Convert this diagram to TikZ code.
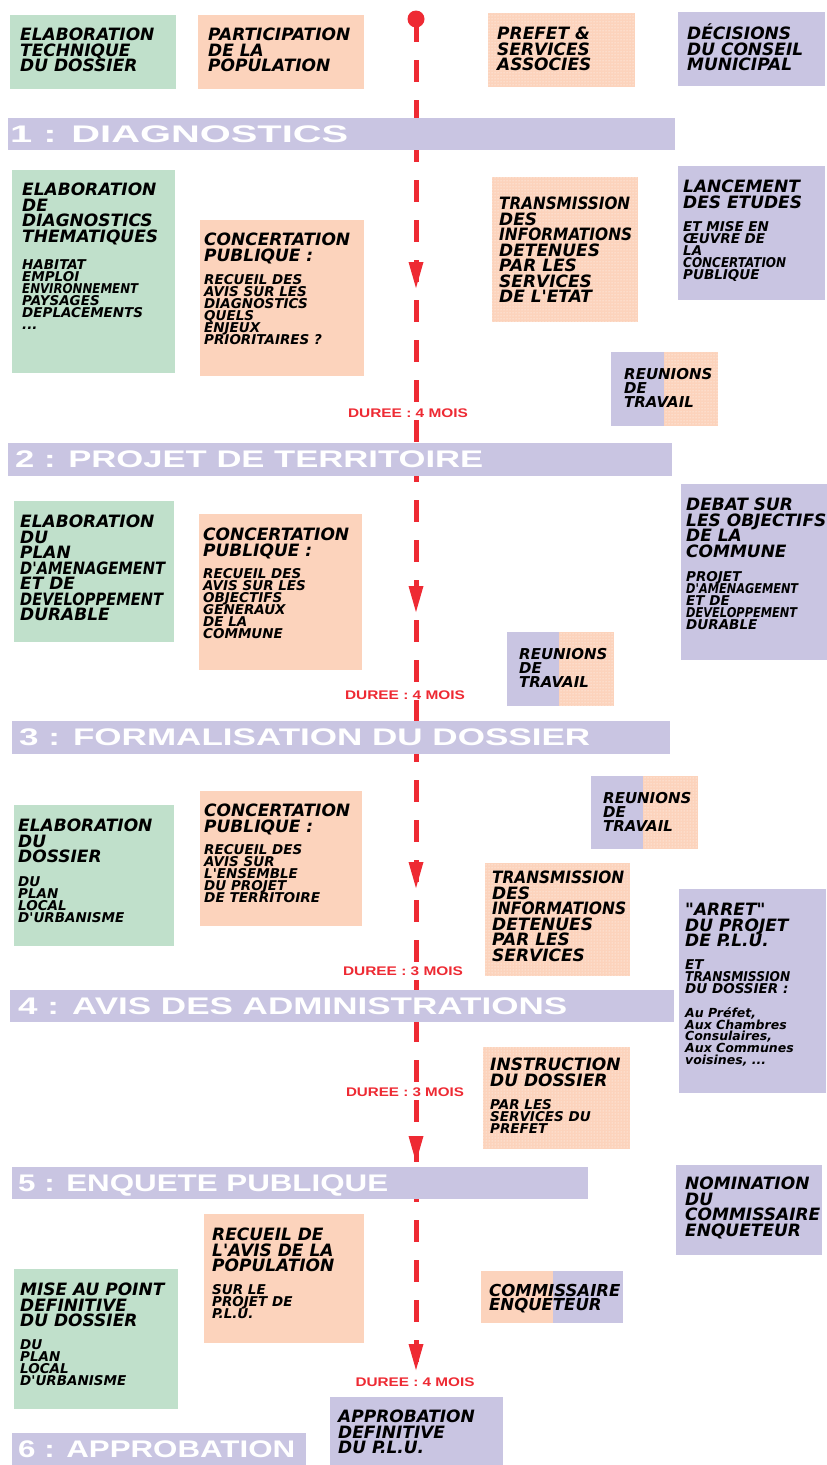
\documentclass[tikz,border=0pt]{standalone}
\usepackage{fontspec}
\usepackage{graphicx}
\usetikzlibrary{patterns}
\newfontfamily\bxfam{DejaVu Sans}
\newfontfamily\hfam{Liberation Sans}
\definecolor{vgreen}{HTML}{C0E0CB}
\definecolor{vpeach}{HTML}{FCD3BC}
\definecolor{vlav}{HTML}{C9C5E2}
\definecolor{vred}{HTML}{EE2A33}
\newcommand\bigf{\bxfam\bfseries\itshape\fontsize{17}{15.5}\selectfont}
\newcommand\smallf{\bxfam\bfseries\itshape\fontsize{13.5}{12}\selectfont}
\newcommand\smallerf{\bxfam\bfseries\itshape\fontsize{12.5}{11.7}\selectfont}
\newcommand\midf{\bxfam\bfseries\itshape\fontsize{15}{14}\selectfont}
\newcommand\commf{\bxfam\bfseries\itshape\fontsize{16.5}{14}\selectfont}
\newcommand\hdrf{\hfam\bfseries\fontsize{24}{24}\selectfont}
\newcommand\durf{\hfam\bfseries\fontsize{12.5}{12.5}\selectfont}
\newcommand\mlines[1]{\vtop{\lineskiplimit=-100pt\relax\lineskip=0pt\relax\let\\\cr\halign{##\hfil\cr#1\crcr}}}
\newsavebox\fitbox
\newcommand\fitw[2]{\sbox\fitbox{#2}\pgfmathsetmacro\fwr{#1/\the\wd\fitbox}\scalebox{\fwr}[1]{\usebox\fitbox}}
\tikzset{
  txt/.style={anchor=base west, inner sep=0pt, text=black},
  bigt/.style={txt, font=\bigf},
  subt/.style={txt, font=\smallf},
  subtt/.style={txt, font=\smallerf},
  midt/.style={txt, font=\midf},
  commt/.style={txt, font=\commf},
  hdr/.style={anchor=base west, inner sep=0pt, text=white, font=\hdrf},
  dur/.style={inner sep=0pt, text=vred, font=\durf},
  gbox/.style={fill=vgreen},
  pbox/.style={fill=vpeach},
  lbox/.style={fill=vlav},
  dbox/.style={fill=vpeach, postaction={pattern=dots, pattern color=white}},
  hbar/.style={fill=vlav},
  timeline/.style={draw=vred, line width=5pt, dash pattern=on 22pt off 18pt},
  arrtip/.style={fill=vred},
}
\begin{document}
\begin{tikzpicture}[x=1pt,y=-1pt]
\useasboundingbox[fill=white] (0,0) rectangle (827,1465);

% time line
\coordinate (tl0) at (416,20);
\coordinate (tl1) at (416,1370);
\draw[timeline] (tl0) -- (tl1);
\fill[vred] (416,19) circle (8.5);
\foreach \yt in {262,586,862,1136,1344}{
  \fill[arrtip] (408.5,\yt) -- (423.5,\yt) -- (416,\yt+26) -- cycle;
}

% header bars
\fill[hbar] (8,118) rectangle (675,150);
\node[hdr] (h1) at (10,142.5) {\fitw{338}{1 : DIAGNOSTICS}};
\fill[hbar] (8,443) rectangle (672,476);
\node[hdr] (h2) at (15,467.5) {\fitw{468}{2 : PROJET DE TERRITOIRE}};
\fill[hbar] (12,721) rectangle (670,754);
\node[hdr] (h3) at (19,745.5) {\fitw{571}{3 : FORMALISATION DU DOSSIER}};
\fill[hbar] (10,990) rectangle (674,1022);
\node[hdr] (h4) at (18,1014.5) {\fitw{549}{4 : AVIS DES ADMINISTRATIONS}};
\fill[hbar] (12,1167) rectangle (588,1199);
\node[hdr] (h5) at (18,1191.5) {\fitw{370}{5 : ENQUETE PUBLIQUE}};
\fill[hbar] (12,1433) rectangle (306,1465);
\node[hdr] (h6) at (18,1457.5) {\fitw{277}{6 : APPROBATION}};

% top row
\fill[gbox] (10,15) rectangle (176,89);
\node[bigt] (a1) at (20,40.5) {\mlines{ELABORATION\\TECHNIQUE\\DU DOSSIER}};
\fill[pbox] (198,15) rectangle (364,89);
\node[bigt] (a2) at (208,40.5) {\mlines{PARTICIPATION\\DE LA\\POPULATION}};
\fill[dbox] (488,13) rectangle (635,87);
\node[bigt] (a3) at (497,39.5) {\mlines{PREFET \&\\SERVICES\\ASSOCIES}};
\fill[lbox] (678,12) rectangle (825,86);
\node[bigt] (a4) at (687,39.5) {\mlines{DÉCISIONS\\DU CONSEIL\\MUNICIPAL}};

% section 1
\fill[gbox] (12,170) rectangle (175,373);
\node[bigt] (b1) at (22,195.5) {\mlines{ELABORATION\\DE\\DIAGNOSTICS\\THEMATIQUES}};
\node[subt] (b1s) at (22,269.5) {\mlines{HABITAT\\EMPLOI\\\fitw{116}{ENVIRONNEMENT}\\PAYSAGES\\DEPLACEMENTS\\...}};
\fill[pbox] (200,220) rectangle (364,376);
\node[bigt] (b2) at (204,245.5) {\mlines{CONCERTATION\\PUBLIQUE :}};
\node[subt] (b2s) at (204,284.5) {\mlines{RECUEIL DES\\AVIS SUR LES\\DIAGNOSTICS\\QUELS\\ENJEUX\\PRIORITAIRES ?}};
\fill[dbox] (492,177) rectangle (638,322);
\node[bigt] (b3) at (499,209.5) {\mlines{\fitw{131}{TRANSMISSION}\\DES\\\fitw{133}{INFORMATIONS}\\DETENUES\\PAR LES\\SERVICES\\DE L'ETAT}};
\fill[lbox] (678,166) rectangle (825,300);
\node[bigt] (b4) at (683,192.5) {\mlines{LANCEMENT\\DES ETUDES}};
\node[subt] (b4s) at (683,231.5) {\mlines{ET MISE EN\\ŒUVRE DE\\LA\\\fitw{103}{CONCERTATION}\\PUBLIQUE}};
\fill[lbox] (611,352) rectangle (664,426);
\fill[dbox] (664,352) rectangle (718,426);
\node[midt] (b5) at (624,379) {\mlines{REUNIONS\\DE\\TRAVAIL}};
\node[dur] (d1) at (408,413) {\fitw{120}{DUREE : 4 MOIS}};

% section 2
\fill[gbox] (14,501) rectangle (174,642);
\node[bigt] (c1) at (20,527.5) {\mlines{ELABORATION\\DU\\PLAN\\\fitw{145}{D'AMENAGEMENT}\\ET DE\\\fitw{143}{DEVELOPPEMENT}\\DURABLE}};
\fill[pbox] (199,514) rectangle (362,670);
\node[bigt] (c2) at (203,540.5) {\mlines{CONCERTATION\\PUBLIQUE :}};
\node[subt] (c2s) at (203,578.5) {\mlines{RECUEIL DES\\AVIS SUR LES\\OBJECTIFS\\GENERAUX\\DE LA\\COMMUNE}};
\fill[lbox] (681,484) rectangle (827,660);
\node[bigt] (c3) at (686,510.5) {\mlines{DEBAT SUR\\LES OBJECTIFS\\DE LA\\COMMUNE}};
\node[subt] (c3s) at (686,581.5) {\mlines{PROJET\\\fitw{112}{D'AMENAGEMENT}\\ET DE\\\fitw{111}{DEVELOPPEMENT}\\DURABLE}};
\fill[lbox] (507,632) rectangle (559,706);
\fill[dbox] (559,632) rectangle (614,706);
\node[midt] (c4) at (519,659) {\mlines{REUNIONS\\DE\\TRAVAIL}};
\node[dur] (d2) at (405,695) {\fitw{120}{DUREE : 4 MOIS}};

% section 3
\fill[lbox] (591,776) rectangle (643,849);
\fill[dbox] (643,776) rectangle (698,849);
\node[midt] (e0) at (603,803) {\mlines{REUNIONS\\DE\\TRAVAIL}};
\fill[gbox] (14,805) rectangle (174,946);
\node[bigt] (e1) at (18,831.5) {\mlines{ELABORATION\\DU\\DOSSIER}};
\node[subt] (e1s) at (18,886.5) {\mlines{DU\\PLAN\\LOCAL\\D'URBANISME}};
\fill[pbox] (200,791) rectangle (362,926);
\node[bigt] (e2) at (204,816.5) {\mlines{CONCERTATION\\PUBLIQUE :}};
\node[subt] (e2s) at (204,854.5) {\mlines{RECUEIL DES\\AVIS SUR\\L'ENSEMBLE\\DU PROJET\\\fitw{116}{DE TERRITOIRE}}};
\fill[dbox] (485,863) rectangle (630,976);
\node[bigt] (e3) at (492,883.5) {\mlines{\fitw{132}{TRANSMISSION}\\DES\\\fitw{134}{INFORMATIONS}\\DETENUES\\PAR LES\\SERVICES}};
\fill[lbox] (679,889) rectangle (826,1093);
\node[bigt] (e4) at (685,915.5) {\mlines{"ARRET"\\DU PROJET\\DE P.L.U.}};
\node[subt] (e4s) at (685,969.5) {\mlines{ET\\\fitw{105}{TRANSMISSION}\\DU DOSSIER :}};
\node[subtt] (e4t) at (685,1017.5) {\mlines{Au Préfet,\\Aux Chambres\\Consulaires,\\Aux Communes\\voisines, ...}};
\node[dur] (d3) at (403,971) {\fitw{120}{DUREE : 3 MOIS}};

% section 4
\node[dur] (d4) at (405,1092) {\fitw{118}{DUREE : 3 MOIS}};
\fill[dbox] (483,1047) rectangle (630,1149);
\node[bigt] (f1) at (490,1070.5) {\mlines{INSTRUCTION\\DU DOSSIER}};
\node[subt] (f1s) at (490,1109.5) {\mlines{PAR LES\\SERVICES DU\\PREFET}};

% section 5
\fill[lbox] (676,1165) rectangle (822,1255);
\node[bigt] (g1) at (685,1189.5) {\mlines{NOMINATION\\DU\\COMMISSAIRE\\ENQUETEUR}};
\fill[pbox] (204,1214) rectangle (364,1343);
\node[bigt] (g2) at (212,1240.5) {\mlines{RECUEIL DE\\L'AVIS DE LA\\POPULATION}};
\node[subt] (g2s) at (212,1294.5) {\mlines{SUR LE\\PROJET DE\\P.L.U.}};
\fill[gbox] (14,1269) rectangle (178,1409);
\node[bigt] (g3) at (20,1295.5) {\mlines{MISE AU POINT\\DEFINITIVE\\DU DOSSIER}};
\node[subt] (g3s) at (20,1349.5) {\mlines{DU\\PLAN\\LOCAL\\D'URBANISME}};
\fill[pbox] (481,1271) rectangle (553,1323);
\fill[lbox] (553,1271) rectangle (623,1323);
\node[commt] (g4) at (489,1296.5) {\mlines{COMMISSAIRE\\ENQUETEUR}};
\node[dur] (d5) at (415,1382) {\fitw{119}{DUREE : 4 MOIS}};
\fill[lbox] (330,1397) rectangle (503,1465);
\node[bigt] (g5) at (338,1422.5) {\mlines{APPROBATION\\DEFINITIVE\\DU P.L.U.}};
\end{tikzpicture}
\end{document}
